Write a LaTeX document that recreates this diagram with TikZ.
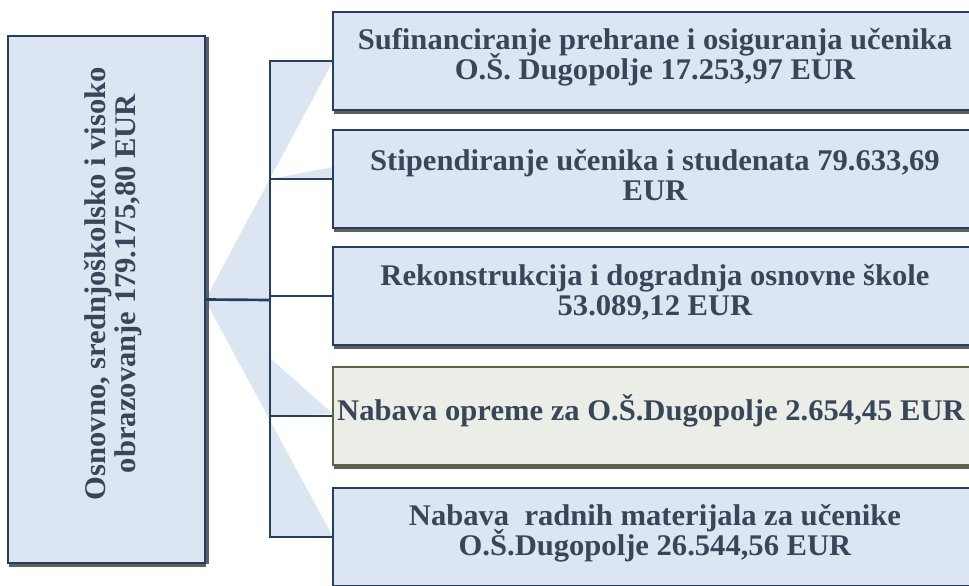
\documentclass[tikz,border=0pt]{standalone}
\usepackage{fontspec}
\setmainfont[FakeStretch=1.02]{Liberation Serif}
\usetikzlibrary{shadows}
\definecolor{boxblue}{RGB}{220,230,242}
\definecolor{lineblue}{RGB}{36,63,96}
\definecolor{textslate}{RGB}{56,70,90}
\definecolor{boxgreen}{RGB}{235,238,231}
\definecolor{linegreen}{RGB}{88,105,64}
\definecolor{shadowgray}{RGB}{95,95,95}

\begin{document}
\begin{tikzpicture}[x=0.75pt, y=-0.75pt,
    box/.style={draw=lineblue, line width=1.5pt, fill=boxblue, inner sep=0pt,
      minimum width=483pt, minimum height=74pt,
      drop shadow={shadow xshift=0.4pt, shadow yshift=-3pt, fill=shadowgray, opacity=1}},
    boxtext/.style={text=textslate, align=center,
      font={\fontsize{22.5}{22.5}\selectfont\bfseries\lineskiplimit=-20pt}},
    link/.style={lineblue, line width=2pt}]
  \useasboundingbox (0,0) rectangle (969,585);
  \clip (0,0) rectangle (969,585);

  % Lepeza iza veza
  \fill[boxblue, even odd rule]
    (205,300) -- (333,61) -- (333,537) -- cycle
    (270,61) rectangle (333,537)
    (270,179) -- (333,167) -- (333,179) -- cycle
    (270,358) -- (333,414) -- (270,416) -- cycle;

  % Korijen
  \node[box, minimum width=147.75pt, minimum height=395pt,
    drop shadow={shadow xshift=3pt, shadow yshift=-0.5pt, fill=shadowgray, opacity=1}]
    (root) at (106.5,299.5) {};
  \node[boxtext, rotate=90] (rootlbl) at ([xshift=5pt, yshift=12pt]root.center)
    {Osnovno, srednjoškolsko i visoko\\obrazovanje 179.175,80 EUR};

  % Stavke
  \node[box] (b1) at (655,61) {};
  \node[box] (b2) at (655,179) {};
  \node[box] (b3) at (655,296) {};
  \node[box, draw=linegreen, fill=boxgreen] (b4) at (655,416) {};
  \node[box] (b5) at (655,537) {};

  \node[boxtext] (t1) at ([yshift=3pt]b1.center)
    {Sufinanciranje prehrane i osiguranja učenika\\O.Š. Dugopolje 17.253,97 EUR};
  \node[boxtext] (t2) at ([yshift=3pt]b2.center)
    {Stipendiranje učenika i studenata 79.633,69\\EUR};
  \node[boxtext] (t3) at ([yshift=3pt]b3.center)
    {Rekonstrukcija i dogradnja osnovne škole\\53.089,12 EUR};
  \node[boxtext] (t4) at ([xshift=-3pt, yshift=4pt]b4.center)
    {Nabava opreme za O.Š.Dugopolje 2.654,45 EUR};
  \node[boxtext] (t5) at ([yshift=3pt]b5.center)
    {Nabava\ \ radnih materijala za učenike\\O.Š.Dugopolje 26.544,56 EUR};

  % Veze
  \coordinate (fork) at (270,300);
  \draw[link] (root.east) -- (fork);
  \foreach \i in {1,...,5} {
    \draw[link] (fork) |- (b\i.west);
  }
\end{tikzpicture}
\end{document}
